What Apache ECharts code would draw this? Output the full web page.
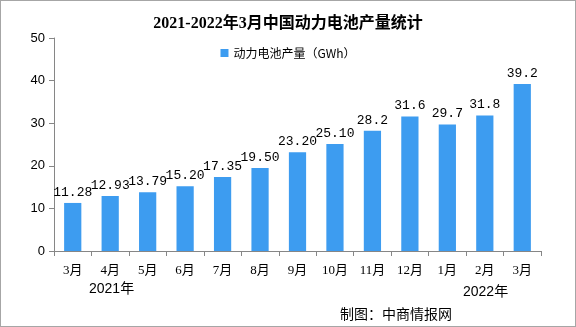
<!DOCTYPE html>
<html><head><meta charset="utf-8">
<script src="https://cdn.jsdelivr.net/npm/echarts@6/dist/echarts.min.js"></script>
<style>html,body{margin:0;padding:0;background:#fff}#c{width:576px;height:327px;box-sizing:border-box;border:1px solid #a6a6a6}</style>
</head><body><div id="c"></div>
<script>
const categories = ['3月','4月','5月','6月','7月','8月','9月','10月','11月','12月','1月','2月','3月'];
const values = [11.28, 12.93, 13.79, 15.20, 17.35, 19.50, 23.20, 25.10, 28.2, 31.6, 29.7, 31.8, 39.2];
const valueLabels = ['11.28','12.93','13.79','15.20','17.35','19.50','23.20','25.10','28.2','31.6','29.7','31.8','39.2'];
const yTicks = [0,10,20,30,40,50];
const chart = echarts.init(document.getElementById('c'));
const mono = '"Liberation Mono","DejaVu Sans Mono","Noto Sans CJK SC",monospace';
chart.setOption({
  animation:false,
  title:{text:'2021-2022年3月中国动力电池产量统计',left:'center',top:10,
    textStyle:{fontSize:16,fontWeight:'bold',color:'#000',fontFamily:'"Liberation Serif","Noto Sans CJK SC",serif'}},
  legend:{top:41,left:'center',itemWidth:8,itemHeight:8,icon:'rect',
    textStyle:{fontSize:12,color:'#000',fontFamily:'"Noto Sans CJK SC",sans-serif'},
    data:['动力电池产量（GWh）']},
  grid:{left:53,right:34,top:37,bottom:75,containLabel:false},
  xAxis:{type:'category',data:categories,
    axisLine:{lineStyle:{color:'#868686'}},
    axisTick:{show:true,alignWithLabel:false,length:5,lineStyle:{color:'#868686'}},
    axisLabel:{color:'#000',fontSize:13,margin:13,fontFamily:'"Liberation Serif","Noto Sans CJK SC",serif'}},
  yAxis:{type:'value',min:0,max:50,interval:10,
    axisLine:{show:true,lineStyle:{color:'#868686'}},
    axisTick:{show:true,length:5,lineStyle:{color:'#868686'}},
    splitLine:{show:false},
    axisLabel:{color:'#000',fontSize:13,margin:9,fontFamily:'"Liberation Sans",sans-serif',
      formatter:v=>yTicks.includes(v)?String(v):''}},
  series:[{name:'动力电池产量（GWh）',type:'bar',data:values,barWidth:'46%',
    itemStyle:{color:'#3d9cf0'},
    label:{show:true,position:'top',distance:4,color:'#000',fontSize:13,fontFamily:mono,
      formatter:p=>valueLabels[p.dataIndex]}}],
  graphic:[
    {type:'text',left:88,top:281,style:{text:'2021年',fill:'#000',font:'14px "Liberation Sans","Noto Sans CJK SC",sans-serif'}},
    {type:'text',left:462,top:284,style:{text:'2022年',fill:'#000',font:'14px "Liberation Sans","Noto Sans CJK SC",sans-serif'}},
    {type:'text',left:339,top:306,style:{text:'制图：中商情报网',fill:'#000',font:'14px "Noto Sans CJK SC",sans-serif'}}
  ]
});
</script></body></html>
